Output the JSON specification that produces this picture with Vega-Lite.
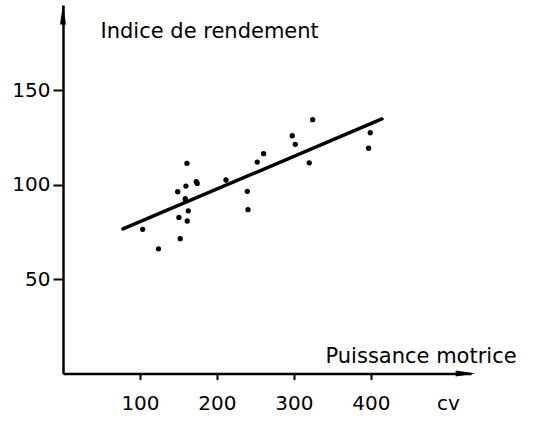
{
  "$schema": "https://vega.github.io/schema/vega-lite/v6.json",
  "width": 408,
  "height": 368.5,
  "autosize": {"type": "none"},
  "padding": {"left": 63, "top": 5, "right": 63, "bottom": 49.5},
  "background": "white",
  "config": {
    "view": {"stroke": null},
    "font": "DejaVu Sans",
    "axis": {
      "grid": false,
      "domainColor": "black",
      "domainWidth": 2.5,
      "tickColor": "black",
      "tickWidth": 2,
      "labelColor": "black",
      "titleColor": "black",
      "labelFont": "DejaVu Sans",
      "titleFont": "DejaVu Sans",
      "labelFontSize": 20,
      "titleFontSize": 21,
      "titleFontWeight": "normal"
    }
  },
  "datasets": {
    "points": [
      {"puissance": 103.5, "indice": 76.3},
      {"puissance": 124, "indice": 66},
      {"puissance": 149, "indice": 96.2},
      {"puissance": 159.7, "indice": 99.2},
      {"puissance": 161, "indice": 111.2},
      {"puissance": 158.8, "indice": 92.5},
      {"puissance": 159.7, "indice": 91.4},
      {"puissance": 162.7, "indice": 86.1},
      {"puissance": 150.6, "indice": 82.6},
      {"puissance": 161.4, "indice": 80.7},
      {"puissance": 152.3, "indice": 71.3},
      {"puissance": 173.1, "indice": 101.5},
      {"puissance": 174.4, "indice": 100.6},
      {"puissance": 211.7, "indice": 102.4},
      {"puissance": 239.4, "indice": 96.4},
      {"puissance": 240.3, "indice": 86.7},
      {"puissance": 252.3, "indice": 111.9},
      {"puissance": 260.6, "indice": 116.3},
      {"puissance": 297.8, "indice": 125.8},
      {"puissance": 301.7, "indice": 121.3},
      {"puissance": 324.3, "indice": 134.3},
      {"puissance": 319.9, "indice": 111.5},
      {"puissance": 399.1, "indice": 127.4},
      {"puissance": 397, "indice": 119.2}
    ],
    "fit": [
      {"puissance": 77.9, "indice": 76.5},
      {"puissance": 414.3, "indice": 134.7}
    ]
  },
  "layer": [
    {
      "data": {"name": "points"},
      "mark": {"type": "circle", "color": "black", "opacity": 1, "size": 28},
      "encoding": {
        "x": {
          "field": "puissance",
          "type": "quantitative",
          "scale": {"domain": [0, 530], "nice": false, "zero": false},
          "axis": {
            "values": [100, 200, 300, 400, 500],
            "labelExpr": "datum.value === 500 ? 'cv' : datum.label",
            "tickOpacity": {"condition": {"test": "datum.value === 500", "value": 0}, "value": 1},
            "tickSize": 6,
            "labelPadding": 14,
            "title": "Puissance motrice",
            "titleAngle": 0,
            "titleX": 262,
            "titleY": -11,
            "titleAlign": "left",
            "titleBaseline": "alphabetic"
          }
        },
        "y": {
          "field": "indice",
          "type": "quantitative",
          "scale": {"domain": [0, 195], "nice": false, "zero": false},
          "axis": {
            "values": [50, 100, 150],
            "tickSize": 10,
            "labelPadding": 3,
            "title": "Indice de rendement",
            "titleAngle": 0,
            "titleX": 37,
            "titleY": 32,
            "titleAlign": "left",
            "titleBaseline": "alphabetic"
          }
        }
      }
    },
    {
      "data": {"name": "fit"},
      "mark": {"type": "line", "color": "black", "strokeWidth": 3.5, "strokeCap": "round"},
      "encoding": {
        "x": {"field": "puissance", "type": "quantitative"},
        "y": {"field": "indice", "type": "quantitative"}
      }
    },
    {
      "data": {"values": [{}]},
      "mark": {"type": "point", "shape": "M-0.3,1L0,-1L0.3,1Z", "filled": true, "color": "black", "opacity": 1, "size": 400},
      "encoding": {
        "x": {"datum": 0},
        "y": {"datum": 190}
      }
    },
    {
      "data": {"values": [{}]},
      "mark": {"type": "point", "shape": "M-1,-0.3L1,0L-1,0.3Z", "filled": true, "color": "black", "opacity": 1, "size": 400},
      "encoding": {
        "x": {"datum": 523},
        "y": {"datum": 0}
      }
    }
  ]
}
